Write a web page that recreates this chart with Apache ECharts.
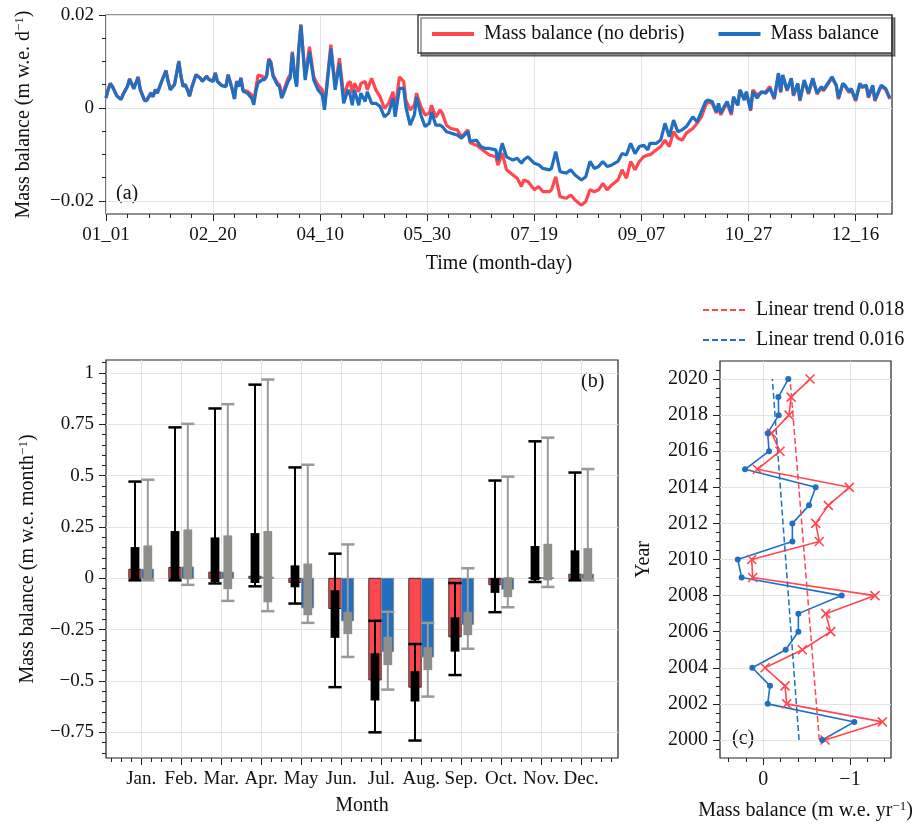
<!DOCTYPE html>
<html>
<head>
<meta charset="utf-8">
<script src="https://cdn.jsdelivr.net/npm/echarts@6/dist/echarts.min.js"></script>
<style>
  html, body { margin: 0; padding: 0; background: #fff; }
  #chart { width: 919px; height: 826px; }
</style>
</head>
<body>
<div id="chart"></div>
<script>
var FONT = "Liberation Serif";
var RED = "#ff4750";
var BLUE = "#1f6fc2";

// ---- (a) daily mass balance, day index from 01_01 ----
var days = [0,1,2,3,5,7,8,10,11,13,15,16,18,19,21,22,23,24,26,28,29,30,32,34,35,36,37,38,39,40,42,44,45,47,48,50,51,52,54,56,57,59,60,61,62,63,64,66,68,69,70,71,73,74,75,76,77,78,80,81,82,83,85,86,87,88,89,90,91,93,95,97,99,101,102,105,107,109,111,113,114,115,116,118,119,121,122,124,126,128,130,132,134,135,137,139,140,142,144,145,147,149,151,152,154,156,157,159,161,164,166,169,170,173,175,177,179,182,183,185,187,190,192,194,195,197,200,202,204,207,208,210,212,215,217,219,222,224,226,228,230,232,234,236,239,241,243,245,247,249,251,253,254,257,259,261,263,265,267,269,271,274,276,278,280,281,283,285,286,287,289,290,292,293,295,296,298,299,301,302,304,306,308,310,312,314,315,316,318,320,321,323,324,326,328,330,332,334,335,337,339,341,342,344,345,347,348,350,352,353,355,356,358,359,361,362,364,366];
var mbDaily = [0.0021,0.0039,0.0052,0.0046,0.0026,0.0018,0.0029,0.0046,0.0062,0.0041,0.0066,0.0039,0.0016,0.0016,0.0032,0.0024,0.0039,0.0032,0.0057,0.0080,0.0057,0.0039,0.0050,0.0100,0.0068,0.0046,0.0050,0.0039,0.0025,0.0043,0.0071,0.0064,0.0057,0.0068,0.0061,0.0057,0.0075,0.0057,0.0048,0.0046,0.0071,0.0039,0.0019,0.0057,0.0046,0.0064,0.0036,0.0032,0.0021,0.0007,0.0036,0.0054,0.0061,0.0061,0.0068,0.0104,0.0096,0.0068,0.0050,0.0046,0.0021,0.0032,0.0057,0.0064,0.0118,0.0071,0.0046,0.0125,0.0178,0.0060,0.0121,0.0060,0.0039,0.0028,-0.0004,0.0128,0.0039,0.0096,0.0010,0.0039,0.0028,0.0006,0.0039,0.0006,0.0032,0.0014,0.0035,0.0010,0.0010,0.0003,-0.0019,-0.0011,0.0021,-0.0019,0.0042,0.0042,0.0003,-0.0037,-0.0015,0.0024,-0.0015,-0.0040,-0.0033,-0.0008,-0.0037,-0.0037,-0.0040,-0.0051,-0.0054,-0.0058,-0.0065,-0.0051,-0.0072,-0.0069,-0.0083,-0.0087,-0.0087,-0.0090,-0.0112,-0.0076,-0.0105,-0.0112,-0.0108,-0.0119,-0.0112,-0.0105,-0.0119,-0.0122,-0.0130,-0.0133,-0.0130,-0.0094,-0.0137,-0.0140,-0.0133,-0.0144,-0.0155,-0.0148,-0.0115,-0.0130,-0.0126,-0.0115,-0.0126,-0.0123,-0.0115,-0.0098,-0.0101,-0.0076,-0.0098,-0.0083,-0.0080,-0.0090,-0.0076,-0.0076,-0.0069,-0.0033,-0.0062,-0.0026,-0.0051,-0.0047,-0.0040,-0.0019,-0.0030,-0.0008,0.0014,0.0017,0.0014,-0.0008,0.0010,-0.0011,0.0006,0.0014,-0.0011,0.0024,0.0006,0.0039,0.0017,0.0035,-0.0004,0.0035,0.0021,0.0035,0.0032,0.0042,0.0021,0.0075,0.0035,0.0071,0.0039,0.0064,0.0028,0.0053,0.0017,0.0060,0.0032,0.0064,0.0032,0.0046,0.0039,0.0053,0.0067,0.0049,0.0021,0.0053,0.0049,0.0035,0.0042,0.0017,0.0053,0.0046,0.0049,0.0024,0.0049,0.0017,0.0039,0.0049,0.0042,0.0021];
var mbDailyNoDebris = [0.0022,0.0040,0.0053,0.0047,0.0027,0.0019,0.0030,0.0047,0.0063,0.0043,0.0067,0.0040,0.0017,0.0017,0.0033,0.0025,0.0040,0.0033,0.0058,0.0081,0.0058,0.0041,0.0051,0.0101,0.0069,0.0047,0.0051,0.0040,0.0026,0.0044,0.0072,0.0065,0.0058,0.0069,0.0062,0.0058,0.0076,0.0058,0.0049,0.0047,0.0072,0.0040,0.0020,0.0058,0.0047,0.0065,0.0038,0.0036,0.0028,0.0014,0.0043,0.0071,0.0068,0.0064,0.0070,0.0106,0.0099,0.0071,0.0054,0.0050,0.0028,0.0038,0.0064,0.0071,0.0121,0.0076,0.0050,0.0128,0.0180,0.0067,0.0132,0.0067,0.0049,0.0039,0.0003,0.0136,0.0046,0.0107,0.0024,0.0053,0.0057,0.0032,0.0053,0.0035,0.0053,0.0057,0.0039,0.0064,0.0039,0.0024,-0.0001,0.0010,0.0035,-0.0004,0.0067,0.0057,0.0017,-0.0004,0.0006,0.0032,0.0003,-0.0015,-0.0011,0.0006,-0.0020,-0.0004,-0.0011,-0.0037,-0.0044,-0.0047,-0.0062,-0.0047,-0.0075,-0.0080,-0.0087,-0.0094,-0.0101,-0.0105,-0.0123,-0.0097,-0.0133,-0.0144,-0.0151,-0.0169,-0.0155,-0.0158,-0.0176,-0.0169,-0.0180,-0.0180,-0.0176,-0.0148,-0.0191,-0.0194,-0.0187,-0.0198,-0.0209,-0.0201,-0.0176,-0.0180,-0.0176,-0.0162,-0.0176,-0.0166,-0.0155,-0.0133,-0.0151,-0.0115,-0.0133,-0.0115,-0.0105,-0.0101,-0.0101,-0.0090,-0.0083,-0.0069,-0.0083,-0.0051,-0.0065,-0.0069,-0.0054,-0.0044,-0.0033,-0.0019,0.0006,0.0014,0.0010,-0.0011,0.0006,-0.0015,0.0003,0.0010,-0.0015,0.0021,0.0006,0.0039,0.0021,0.0033,-0.0006,0.0039,0.0028,0.0033,0.0035,0.0046,0.0019,0.0073,0.0033,0.0069,0.0037,0.0062,0.0026,0.0051,0.0015,0.0058,0.0030,0.0062,0.0030,0.0044,0.0037,0.0051,0.0065,0.0047,0.0019,0.0051,0.0047,0.0033,0.0040,0.0015,0.0051,0.0044,0.0047,0.0022,0.0047,0.0015,0.0037,0.0047,0.0040,0.0019];
var dayTicks = [0, 50, 100, 150, 200, 250, 300, 350];
var dayLabels = ["01_01", "02_20", "04_10", "05_30", "07_19", "09_07", "10_27", "12_16"];

// ---- (b) monthly mass balance ----
var months = ["Jan.", "Feb.", "Mar.", "Apr.", "May", "Jun.", "Jul.", "Aug.", "Sep.", "Oct.", "Nov.", "Dec."];
var monthNoDebris = [0.044, 0.053, 0.03, 0.01, -0.02, -0.147, -0.495, -0.53, -0.285, -0.031, 0.003, 0.02];
var monthDebris = [0.044, 0.055, 0.03, 0.005, -0.144, -0.207, -0.357, -0.383, -0.224, -0.053, 0.003, 0.02];
var noDebrisMin = [-0.01, -0.01, -0.025, -0.039, -0.123, -0.53, -0.75, -0.79, -0.471, -0.165, -0.018, -0.01];
var noDebrisLow = [-0.01, -0.01, -0.018, -0.023, -0.044, -0.29, -0.595, -0.6, -0.357, -0.071, -0.01, -0.01];
var noDebrisHigh = [0.152, 0.23, 0.199, 0.22, 0.063, -0.058, -0.365, -0.452, -0.19, 0.0, 0.157, 0.136];
var noDebrisMax = [0.471, 0.735, 0.827, 0.943, 0.54, 0.12, -0.207, -0.32, -0.023, 0.476, 0.667, 0.515];
var debrisMin = [-0.01, -0.032, -0.11, -0.16, -0.217, -0.383, -0.542, -0.576, -0.343, -0.141, -0.042, -0.01];
var debrisLow = [-0.01, -0.005, -0.053, -0.117, -0.18, -0.272, -0.423, -0.447, -0.277, -0.092, -0.01, -0.01];
var debrisHigh = [0.16, 0.238, 0.209, 0.23, 0.072, -0.163, -0.285, -0.335, -0.163, 0.005, 0.168, 0.147];
var debrisMax = [0.48, 0.752, 0.848, 0.968, 0.553, 0.165, -0.163, -0.217, 0.049, 0.495, 0.685, 0.532];

// ---- (c) annual mass balance ----
var years = [2000,2001,2002,2003,2004,2005,2006,2007,2008,2009,2010,2011,2012,2013,2014,2015,2016,2017,2018,2019,2020];
var annualNoDebris = [-0.712,-1.373,-0.27,-0.25,-0.02,-0.45,-0.777,-0.72,-1.288,0.123,0.134,-0.646,-0.604,-0.75,-0.992,0.069,-0.192,-0.096,-0.296,-0.32,-0.539];
var annualDebris = [-0.68,-1.05,-0.05,-0.077,0.127,-0.258,-0.404,-0.404,-0.904,0.25,0.295,-0.335,-0.335,-0.527,-0.604,0.211,-0.066,-0.05,-0.177,-0.173,-0.288];
var trendYears = [2000, 2020];
var trendNoDebris = [-0.646, -0.308];
var trendDebris = [-0.412, -0.104];

function range(a, b, step) {
  var out = [];
  for (var v = a; v <= b + 1e-9; v += step) out.push(+v.toFixed(4));
  return out;
}
function minus(v) { return String(v).replace("-", "\u2212"); }

var tickLine = { color: "#222", width: 1 };
var labelStyle = { color: "#111", fontFamily: FONT, fontSize: 19 };
var nameStyle = {
  color: "#111", fontFamily: FONT, fontSize: 20,
  rich: {
    n: { fontFamily: FONT, fontSize: 20, color: "#111" },
    s: { fontFamily: FONT, fontSize: 13, color: "#111", verticalAlign: "top", padding: [0, 0, 8, 0] }
  }
};

// a main axis (major ticks, labels, grid lines) plus an overlapping one for the minor ticks
function axes(grid, min, max, major, minor, fmt, extra) {
  extra = extra || {};
  var main = {
    type: "value", gridIndex: grid, min: min, max: max, inverse: !!extra.inverse,
    position: extra.position,
    axisLine: { show: false, onZero: false },
    axisTick: { show: true, length: 7, customValues: major, lineStyle: tickLine },
    axisLabel: Object.assign({ show: true, customValues: major, formatter: fmt, margin: 12 }, labelStyle, extra.labelStyle || {}),
    splitLine: { show: true, lineStyle: { color: "#e4e4e4", width: 1 } },
    name: extra.name, nameLocation: "middle", nameGap: extra.nameGap, nameTextStyle: nameStyle
  };
  var sub = {
    type: "value", gridIndex: grid, min: min, max: max, inverse: !!extra.inverse,
    position: extra.position,
    axisLine: { show: false, onZero: false },
    axisTick: { show: true, length: 4, customValues: minor, lineStyle: tickLine },
    axisLabel: { show: false },
    splitLine: { show: false }
  };
  return [main, sub];
}

var xA = axes(0, 0, 367, dayTicks, range(0, 360, 10),
  function (v) { return dayLabels[dayTicks.indexOf(v)]; },
  { position: "bottom", name: "Time (month-day)", nameGap: 40 });
var yA = axes(0, -0.0228, 0.02, [-0.02, 0, 0.02], range(-0.02, 0.02, 0.005),
  function (v) { return minus(v); },
  { position: "left", name: "{n|Mass balance (m w.e. d}{s|\u22121}{n|)}", nameGap: 72 });

var xB = axes(1, 0.12, 12.92, range(1, 12, 1), range(0.25, 12.75, 0.25),
  function (v) { return months[v - 1]; },
  { position: "bottom", name: "Month", nameGap: 38 });
var yB = axes(1, -0.875, 1.063, range(-0.75, 1, 0.25), range(-0.85, 1.05, 0.05),
  function (v) { return minus(v); },
  { position: "left", name: "{n|Mass balance (m w.e. month}{s|\u22121}{n|)}", nameGap: 68 });

var xC = axes(2, -1.473, 0.5, [0, -1], range(-1.4, 0.4, 0.2),
  function (v) { return minus(v); },
  { position: "bottom", inverse: true, name: "{n|Mass balance (m w.e. yr}{s|\u22121}{n|)}", nameGap: 42, labelStyle: { fontSize: 20 } });
var yC = axes(2, 1999, 2021, range(2000, 2020, 2), range(1999.5, 2020.5, 0.5),
  function (v) { return String(v); },
  { position: "left", name: "Year", nameGap: 66, labelStyle: { fontSize: 20 } });

function barSeries(name, values, x0, x1, fill, stroke) {
  return {
    name: name, type: "custom", xAxisIndex: 2, yAxisIndex: 2, clip: true,
    data: months.map(function (m, i) { return [i + 1, values[i]]; }),
    renderItem: function (params, api) {
      var a = api.coord([api.value(0) + x0, 0]);
      var b = api.coord([api.value(0) + x1, api.value(1)]);
      return {
        type: "rect",
        shape: { x: a[0], y: Math.min(a[1], b[1]), width: b[0] - a[0], height: Math.abs(b[1] - a[1]) },
        style: { fill: fill, stroke: stroke, lineWidth: 1 }
      };
    }
  };
}

function boxSeries(name, mins, lows, highs, maxs, offset, boxColor, lineColor) {
  return {
    name: name, type: "custom", xAxisIndex: 2, yAxisIndex: 2, clip: true,
    data: months.map(function (m, i) { return [i + 1, mins[i], lows[i], highs[i], maxs[i]]; }),
    renderItem: function (params, api) {
      var x = api.value(0) + offset;
      var pMin = api.coord([x, api.value(1)]);
      var pLow = api.coord([x, api.value(2)]);
      var pHigh = api.coord([x, api.value(3)]);
      var pMax = api.coord([x, api.value(4)]);
      var half = api.size([0.11, 0])[0];
      var cap = api.size([0.165, 0])[0];
      return {
        type: "group",
        children: [
          { type: "line", shape: { x1: pMin[0], y1: pMin[1], x2: pMax[0], y2: pMax[1] }, style: { stroke: lineColor, lineWidth: 2 } },
          { type: "line", shape: { x1: pMin[0] - cap, y1: pMin[1], x2: pMin[0] + cap, y2: pMin[1] }, style: { stroke: lineColor, lineWidth: 2.5 } },
          { type: "line", shape: { x1: pMax[0] - cap, y1: pMax[1], x2: pMax[0] + cap, y2: pMax[1] }, style: { stroke: lineColor, lineWidth: 2.5 } },
          { type: "rect", shape: { x: pLow[0] - half, y: pHigh[1], width: 2 * half, height: Math.max(pLow[1] - pHigh[1], 1) }, style: { fill: boxColor } }
        ]
      };
    }
  };
}

var noSymbol = { color: "rgba(0,0,0,0)", borderWidth: 0, opacity: 0 };

var chart = echarts.init(document.getElementById("chart"), null, { renderer: "canvas" });

chart.setOption({
  animation: false,
  backgroundColor: "#fff",
  grid: [
    { left: 106, top: 15, width: 786, height: 199, show: true, borderColor: "#222", borderWidth: 1.2, backgroundColor: "transparent" },
    { left: 106, top: 360, width: 512, height: 398, show: true, borderColor: "#222", borderWidth: 1.2, backgroundColor: "transparent" },
    { left: 720, top: 361, width: 171, height: 397, show: true, borderColor: "#222", borderWidth: 1.2, backgroundColor: "transparent" }
  ],
  xAxis: [xA[0], xA[1], xB[0], xB[1], xC[0], xC[1]],
  yAxis: [yA[0], yA[1], yB[0], yB[1], yC[0], yC[1]],
  legend: [
    {
      left: 418, top: 15, orient: "horizontal", selectedMode: false,
      data: ["Mass balance (no debris)", "Mass balance"],
      itemWidth: 42, itemHeight: 14, itemGap: 32, padding: [9, 13, 9, 12],
      itemStyle: noSymbol, lineStyle: { width: 4 },
      backgroundColor: "#fff", borderColor: "#444", borderWidth: 1.5,
      shadowColor: "rgba(0,0,0,0.45)", shadowBlur: 0, shadowOffsetX: 3, shadowOffsetY: 3,
      textStyle: { fontFamily: FONT, fontSize: 20, color: "#111", padding: [0, 0, 0, 5] }
    },
    {
      left: 702, top: 300, orient: "vertical", selectedMode: false,
      data: ["Linear trend 0.018", "Linear trend 0.016"],
      itemWidth: 42, itemHeight: 14, itemGap: 10, padding: 0,
      itemStyle: noSymbol,
      textStyle: { fontFamily: FONT, fontSize: 20, color: "#111", padding: [0, 0, 0, 6] }
    }
  ],
  graphic: [
    { type: "text", left: 116, top: 184, style: { text: "(a)", font: "20px 'Liberation Serif'", fill: "#111" } },
    { type: "text", left: 581, top: 372, style: { text: "(b)", font: "20px 'Liberation Serif'", fill: "#111" } },
    { type: "text", left: 732, top: 729, style: { text: "(c)", font: "20px 'Liberation Serif'", fill: "#111" } }
  ],
  series: [
    {
      name: "Mass balance (no debris)", type: "line", xAxisIndex: 0, yAxisIndex: 0,
      data: days.map(function (d, i) { return [d, mbDailyNoDebris[i]]; }),
      symbol: "none", lineStyle: { color: RED, width: 3.2 }, itemStyle: { color: RED }
    },
    {
      name: "Mass balance", type: "line", xAxisIndex: 0, yAxisIndex: 0,
      data: days.map(function (d, i) { return [d, mbDaily[i]]; }),
      symbol: "none", lineStyle: { color: BLUE, width: 3.2 }, itemStyle: { color: BLUE }
    },
    barSeries("Monthly (no debris)", monthNoDebris, -0.31, 0, RED, "#333"),
    barSeries("Monthly", monthDebris, 0.01, 0.31, BLUE, "#888"),
    boxSeries("Range (no debris)", noDebrisMin, noDebrisLow, noDebrisHigh, noDebrisMax, -0.155, "#000", "#000"),
    boxSeries("Range", debrisMin, debrisLow, debrisHigh, debrisMax, 0.165, "#8e8f8b", "#999"),
    {
      name: "Annual (no debris)", type: "line", xAxisIndex: 4, yAxisIndex: 4,
      data: years.map(function (y, i) { return [annualNoDebris[i], y]; }),
      symbol: "path://M0,0L10,10M10,0L0,10", symbolSize: 9,
      lineStyle: { color: RED, width: 1.6 },
      itemStyle: { color: "rgba(0,0,0,0)", borderColor: RED, borderWidth: 1.6 }
    },
    {
      name: "Annual", type: "line", xAxisIndex: 4, yAxisIndex: 4,
      data: years.map(function (y, i) { return [annualDebris[i], y]; }),
      symbol: "circle", symbolSize: 6,
      lineStyle: { color: BLUE, width: 1.6 }, itemStyle: { color: BLUE }
    },
    {
      name: "Linear trend 0.018", type: "line", xAxisIndex: 4, yAxisIndex: 4,
      data: trendYears.map(function (y, i) { return [trendNoDebris[i], y]; }),
      symbol: "none", lineStyle: { color: RED, width: 1.5, type: [6, 3] }, itemStyle: { color: RED }
    },
    {
      name: "Linear trend 0.016", type: "line", xAxisIndex: 4, yAxisIndex: 4,
      data: trendYears.map(function (y, i) { return [trendDebris[i], y]; }),
      symbol: "none", lineStyle: { color: BLUE, width: 1.5, type: [6, 3] }, itemStyle: { color: BLUE }
    }
  ]
});
</script>
</body>
</html>
